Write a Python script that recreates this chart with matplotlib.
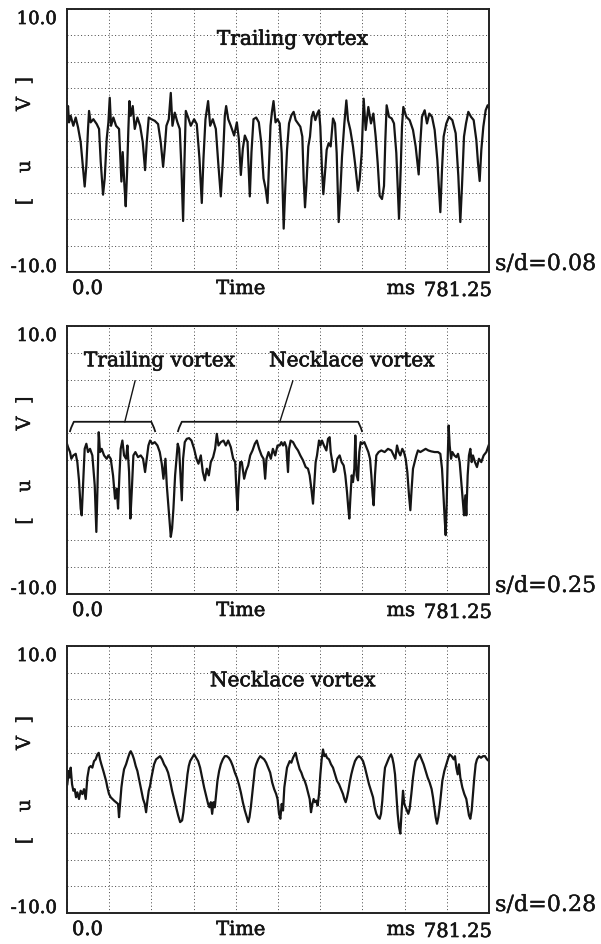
import numpy as np
import matplotlib
matplotlib.use("Agg")
import matplotlib.pyplot as plt
import matplotlib.patheffects as pe

plt.rcParams['font.family'] = ['DejaVu Serif']

T_END = 781.25

# s/d = 0.08 : time [ms], signal [V]
t_008 = [0.0, 1.9, 3.7, 6.8, 11.7, 16.1, 20.4, 25.3, 29.6, 32.7, 35.8, 38.9, 40.8, 43.8, 48.8, 55.0, 59.3, 62.4,
         66.7, 69.8, 73.5, 76.6, 79.1, 81.5, 85.8, 90.8, 96.3, 100.7, 103.1, 106.2, 108.7, 111.2, 113.6, 115.5,
         117.9, 121.7, 125.4, 130.3, 135.3, 140.2, 144.5, 147.6, 151.3, 156.3, 162.4, 168.6, 173.5, 177.9, 180.9,
         184.0, 188.4, 192.1, 195.2, 199.5, 204.4, 208.7, 211.8, 214.9, 217.4, 219.9, 224.2, 229.1, 235.3, 240.2,
         245.2, 249.5, 252.6, 256.3, 261.2, 265.0, 269.9, 275.5, 279.8, 284.7, 288.4, 292.1, 294.6, 298.5, 303.2,
         309.4, 314.4, 318.1, 321.8, 325.5, 329.2, 334.2, 338.4, 341.5, 345.2, 350.2, 355.1, 359.4, 363.8, 367.5,
         371.2, 373.6, 376.7, 379.2, 382.3, 386.0, 389.7,
         393.7, 397.4, 401.1, 404.2, 407.3, 411.0, 415.3, 419.6, 423.3, 427.6, 431.9, 435.6, 438.1, 440.6, 443.1,
         446.7, 449.8, 452.9, 456.0, 459.7, 463.4, 466.5, 468.9, 472.0, 474.5, 477.6, 480.7, 484.4, 488.1, 492.4,
         496.1, 499.2, 502.9, 506.0, 509.1, 513.4, 517.1, 520.2, 524.5, 529.4, 533.1, 538.7, 541.8, 545.5, 549.2,
         552.9, 557.8, 562.7, 567.1, 571.4, 575.1, 578.8, 583.1, 586.8, 589.3, 591.7, 596.1, 601.0, 605.3, 609.6,
         614.6, 617.7, 620.1, 622.6, 628.1, 634.3, 640.5, 645.4, 651.0, 654.0, 657.1, 662.1, 666.4, 670.7, 675.7,
         680.6, 685.5, 691.1, 694.2, 697.2, 702.2, 707.1, 713.3, 719.5, 724.4, 728.1, 731.2, 734.9, 738.6, 742.9,
         747.9, 752.8, 757.7, 760.8, 763.9, 767.0, 770.7, 775.0, 778.7, 781.1]
u_008 = [1.62, 2.62, 1.38, 1.88, 1.12, 1.75, 1.0, -0.12, -2.12, -3.5, -1.88, 0.88, 2.25, 1.38, 1.62, 1.25, 0.88, -1.62,
         -4.12, -2.88, 0.12, 1.38, 3.25, 1.12, 1.75, 1.12, 0.88, -3.12, -0.88, -3.38, -5.0, -2.38, 0.88, 3.0,
         1.88, 2.62, 0.88, 1.75, 1.12, -0.12, -2.25, -0.12, 1.75, 1.62, 1.5, 1.25, -0.12, -2.0, -0.62,
         1.12, 1.62, 3.62, 1.12, 2.12, 1.38, 0.88, -2.12, -6.12, -1.62, 2.25, 1.75, 1.12, 1.62, 1.25,
         -1.38, -4.75, -1.38, 1.62, 3.0, 1.12, 1.62, 0.88, -1.62, -4.25, -1.62, 1.88, 2.62, 1.62, 1.12,
         0.38, 1.38, 0.12, -2.62, -0.62, 0.38, -0.12, -4.25, -0.88, 1.62, 1.75, 1.38, -0.12, -2.88, -3.62,
         -4.75, -2.12, 1.12, 2.12, 3.0, 1.38, 1.62,
         1.30, -0.95, -6.70, -3.45, -0.70, 1.30, 1.92, 2.18, 1.55, 1.30, 1.05, 0.30, -2.95, -5.08, -3.45,
         -0.45, 0.30, 1.80, 2.18, 1.55, 2.05, 2.30, 1.05, -2.20, -4.08, -2.45, -0.70, -0.20, -0.45, 1.68,
         1.30, -0.95, -6.20, -3.95, -1.20, 1.30, 3.05, 1.55, 0.80, -0.45, -1.70, -3.83, -2.95, -0.95, 3.18,
         0.80, 2.55, 1.30, 2.05, 0.30, -1.70, -4.20, -4.45, -3.45, 0.05, 2.68, 1.80, 1.68, 1.30, -0.95,
         -5.95, -2.20, 1.05, 2.55, 1.80, 1.55, 0.80, -0.45, -2.58, -0.20, 1.80, 2.30, 1.30, 2.05, 1.80,
         0.80, -1.45, -5.45, -2.20, 0.30, 1.30, 1.80, 1.55, 0.55, -2.70, -6.20, -3.45, 0.30, 1.30, 2.18,
         1.80, 1.55, 0.05, -1.70, -3.08, -0.70, 1.05, 2.30, 2.68, 2.55]

# s/d = 0.25
t_025 = [0.0, 1.9, 5.6, 8.0, 11.7, 16.1, 19.1, 22.2, 25.3, 27.2, 29.6, 32.7, 35.8, 38.9, 42.6, 46.9, 51.3, 54.3,
         56.2, 58.7, 61.1, 64.2, 68.6, 73.5, 76.6, 80.9, 85.2, 88.9, 92.0, 94.5, 97.0, 99.4, 102.5, 105.6, 109.3,
         111.8, 114.9, 117.3, 119.8, 122.9, 126.6, 131.5, 136.5, 140.8, 144.5, 147.6, 150.7, 153.8, 158.1, 162.4,
         167.4, 171.7, 175.4, 178.5, 182.2, 184.7, 187.1, 189.6, 192.1, 194.5, 197.0, 200.1, 202.6, 205.0, 207.5,
         210.0, 212.5, 214.9, 218.0, 221.7, 226.0, 230.4, 235.3, 239.6, 243.3, 247.7, 251.4, 255.1, 258.8, 262.5,
         266.2, 270.5, 274.2, 277.3, 280.4, 284.7, 289.7, 294.0, 298.3, 303.2, 307.6, 311.3, 313.7, 315.6, 317.4,
         320.5, 323.6, 327.9, 331.7, 335.4, 339.1, 343.4, 347.7, 351.4, 355.7, 360.1, 363.8, 366.8, 369.3, 373.0,
         377.3, 381.1, 385.4, 389.7,
         393.7, 396.8, 399.9, 402.9, 406.0, 409.1, 411.0, 414.0, 418.4, 423.3, 427.6, 431.9, 436.9, 441.8, 446.1,
         449.2, 452.3, 455.4, 457.9, 460.3, 462.8, 466.5, 469.0, 472.0, 475.7, 480.1, 483.2, 486.2, 488.1, 491.2,
         493.6, 496.7, 500.4, 504.7, 508.4, 512.2, 515.2, 518.3, 520.8, 522.6, 524.5, 527.0, 529.4, 531.9, 533.7,
         536.2, 538.7, 541.1, 543.6, 546.7, 550.4, 554.1, 557.8, 560.9, 563.4, 565.8, 567.7, 570.1, 572.6, 576.9,
         581.9, 588.0, 594.2, 600.4, 604.7, 607.8, 610.9, 614.0, 617.0, 620.7, 623.8, 626.9, 630.0, 633.1, 635.6,
         638.0, 640.5, 643.6, 646.7, 649.7, 654.1, 659.0, 663.9, 668.9, 674.4, 680.6, 686.8, 691.1, 694.2, 696.6,
         699.1, 701.0, 702.8, 704.7, 706.5, 708.4, 710.9, 713.3, 717.0, 720.7, 723.8, 726.9, 730.0, 732.4, 734.9,
         737.4, 739.2, 741.7, 744.1, 746.6, 749.1, 751.5, 755.2, 758.9, 762.6, 766.9, 771.3, 776.2, 780.5]
u_025 = [1.2, 0.96, 0.59, 0.09, 0.34, 0.46, -0.16, -1.52, -3.63, -4.13, -1.89, 0.83, 1.21, 0.59, 0.83, 0.34, -1.89, -5.37,
         -2.39, 2.07, 0.59, 0.83, 0.34, 0.09, 0.34, 0.09, -1.15, -2.89, -2.14, -3.63, -1.15, 0.83, 1.45, 0.34, 0.09,
         1.08, -0.90, -4.37, -2.39, 0.34, 0.59, 0.21, 0.34, 0.09, -0.90, 0.09, 1.08, 1.45, 1.21, 1.33,
         1.08, 0.59, -0.28, -1.40, 0.09, -1.89, -3.13, -4.37, -5.74, -5.12, -3.63, -1.15, 0.09, 1.21, 0.83,
         -1.15, -3.01, 0.09, 1.33, 1.58, 1.63, 1.45, 0.83, 0.09, -0.28, 0.34, -0.90, -1.52, -0.65, -1.15,
         -0.16, 0.21, 0.83, 1.95, 1.08, 1.33, 1.45, 1.08, 1.45, 0.96, 0.09, -0.16, -2.39, -3.75, -2.14,
         -0.16, -0.16, -1.40, -0.78, -0.41, 0.34, 0.71, 1.21, 1.45, 0.83, 0.34, 0.09, -1.40, 0.09, 0.59,
         0.09, 0.83, 0.34, 1.08,
         1.08, 1.33, 1.08, 1.33, 0.96, -0.90, 0.83, 1.45, 1.33, 0.96, 0.71, 0.34, -0.03, -0.53, -0.65,
         -1.15, -2.14, -3.26, -1.65, -0.16, 0.34, 1.45, 1.08, 1.45, 1.08, 0.71, 1.58, 1.70, 0.59, -0.16,
         -0.90, -0.78, 0.09, 0.34, -0.16, -0.41, -1.15, -2.39, -3.63, -4.37, -2.89, -1.15, -1.65, -0.65, 1.83,
         -1.15, -1.52, 0.59, 1.33, 1.21, 1.33, 0.96, 0.59, 0.09, -1.15, -2.64, -3.38, -1.15, 0.34, 0.59,
         0.71, 0.59, 0.83, 0.71, 0.34, 0.09, 1.08, 0.59, 0.34, 0.83, 0.59, 0.09, -0.90, -2.64, -3.75,
         -2.14, -0.65, -0.16, 0.34, 0.71, 0.59, 0.71, 0.83, 0.71, 0.64, 0.59, 0.59, 0.46, -0.65, -2.39,
         -4.37, -5.61, -3.38, 0.09, 2.57, 1.08, 0.09, 0.59, 0.34, 0.21, 0.46, -0.16, -1.65, -2.89, -4.13,
         -2.64, -4.13, -1.15, 0.34, 0.83, -0.16, 0.34, -0.16, -0.53, 0.09, -0.16, 0.34, 0.59, 1.08]

# s/d = 0.28
t_028 = [0.6, 3.1, 4.9, 6.8, 9.3, 11.7, 14.2, 16.7, 19.1, 22.2, 25.3, 28.4, 31.5, 34.6, 37.7, 40.8, 43.8, 46.9,
         50.0, 53.1, 56.2, 58.7, 61.1, 63.6, 67.3, 69.8, 72.3, 74.7, 77.8, 80.9, 84.0, 87.1, 90.8, 94.5, 96.3,
         98.2, 100.7, 103.1, 105.6, 109.3, 113.0, 116.1, 118.0, 121.0, 124.1, 127.2, 130.3, 134.0, 137.7, 140.8,
         143.9, 146.4, 148.8, 151.3, 153.8, 156.3, 158.7, 161.2, 164.9, 168.6, 172.3, 176.0, 179.7, 183.4, 187.1,
         190.8, 194.5, 198.2, 202.0, 205.7, 209.4, 213.1, 215.5, 218.0, 220.5, 223.0, 225.4, 227.9, 231.6, 235.3,
         239.0, 242.7, 246.4, 250.1, 253.8, 257.5, 261.2, 263.7, 266.2, 268.7, 271.1, 273.6, 276.1, 278.5, 281.6,
         284.7, 288.4, 292.1, 295.8, 299.5, 303.2, 306.9, 310.7, 314.4, 318.1, 321.8, 325.5, 329.2, 332.9, 335.4,
         337.8, 340.3, 342.8, 345.2, 347.7, 350.2, 353.9, 357.6, 361.3, 365.0, 368.7, 372.4, 376.1, 379.8, 383.5,
         387.2, 389.7,
         392.5, 394.9, 397.4, 399.9, 402.3, 404.8, 407.3, 409.7, 412.2, 415.3, 418.4, 421.5, 423.3, 425.8, 428.2,
         430.7, 433.8, 436.9, 440.0, 443.0, 446.1, 449.2, 451.7, 454.2, 456.6, 459.1, 461.6, 464.0, 466.5, 469.0,
         471.4, 473.9, 476.4, 478.8, 481.3, 485.0, 488.7, 492.4, 496.1, 499.8, 503.5, 507.2, 510.9, 513.4, 515.9,
         518.3, 520.8, 523.3, 526.3, 529.4, 533.1, 536.8, 540.5, 544.2, 548.0, 551.6, 555.3, 559.0, 562.7, 566.5,
         569.5, 572.6, 575.7, 578.8, 581.3, 583.7, 586.2, 588.7, 591.1, 593.6, 596.1, 599.8, 602.2, 604.7, 607.2,
         609.6, 612.1, 614.6, 617.0, 619.5, 622.0, 624.4, 626.9, 629.4, 631.8, 634.3, 637.4, 640.5, 643.0, 645.4,
         649.1, 652.8, 656.5, 660.2, 663.9, 667.6, 671.3, 675.0, 677.5, 679.9, 682.4, 684.9, 687.4, 689.8, 692.3,
         694.8, 698.5, 702.2, 705.9, 708.4, 712.1, 715.8, 718.2, 720.7, 723.2, 725.6, 728.1, 731.8, 735.5, 739.2,
         741.7, 744.1, 746.6, 749.1, 751.5, 754.0, 756.5, 758.9, 762.6, 766.4, 770.1, 773.8, 777.5, 781.2]
u_028 = [-0.35, 0.64, 0.15, 0.89, -0.35, -0.84, -0.72, -1.33, -0.96, -1.46, -0.84, -1.09, -0.72, -1.46, 0.15, 0.89, 1.01, 0.89,
         1.38, 1.51, 1.88, 2.00, 1.51, 1.14, 0.64, 0.27, -0.10, -0.59, -1.09, -1.33, -1.46, -1.58, -1.70, -1.83, -2.82,
         -1.83, -0.59, 0.15, 0.77, 1.14, 1.63, 2.00, 2.12, 1.88, 1.51, 1.01, 0.64, -0.10, -0.84, -1.46,
         -1.83, -2.45, -1.58, -0.84, -0.47, 0.15, 0.64, 1.14, 1.51, 1.63, 1.75, 1.51, 1.14, 0.89, 0.52,
         -0.10, -0.84, -1.46, -2.08, -2.69, -3.19, -3.06, -2.45, -1.46, -0.59, 0.39, 1.01, 1.38, 1.63, 1.88,
         1.63, 1.38, 0.89, 0.15, -0.59, -1.21, -1.83, -2.08, -1.70, -2.57, -1.70, -2.08, -1.09, -0.10, 0.64,
         1.14, 1.51, 1.75, 1.75, 1.63, 1.38, 1.01, 0.52, 0.15, -0.35, -0.96, -1.70, -2.32, -2.82, -3.19,
         -2.82, -2.08, -1.09, -0.10, 0.77, 1.14, 1.51, 1.75, 1.63, 1.51, 1.26, 0.89, 0.52, -0.22, -0.72,
         -1.09, -1.46,
         -2.57, -2.94, -1.83, -2.32, -0.59, 0.15, 0.89, 1.14, 1.38, 1.26, 1.63, 1.88, 2.00, 1.51, 1.14,
         0.77, 0.52, 0.15, -0.10, -0.47, -0.96, -1.46, -2.45, -1.83, -1.46, -1.70, -1.58, -1.95, -1.09, 0.39,
         1.51, 2.25, 1.75, 1.88, 1.63, 1.51, 1.14, 0.89, 0.39, -0.10, -0.35, -0.72, -1.09, -1.46, -1.70,
         -1.33, -0.84, -0.22, 0.39, 0.89, 1.38, 1.63, 1.75, 1.63, 1.38, 0.89, 0.27, -0.35, -0.84, -1.33,
         -2.08, -2.57, -2.82, -2.94, -2.57, -1.58, -0.10, 0.89, 1.14, 1.38, 1.63, 1.88, 1.63, 1.14, 0.39,
         -1.09, -2.57, -3.56, -4.05, -2.32, -0.84, -1.83, -2.08, -2.32, -2.57, -2.20, -1.09, 0.15, 0.89, 1.38,
         1.63, 1.88, 1.51, 1.14, 0.64, 0.15, -0.22, -0.72, -1.33, -2.08, -2.82, -3.31, -2.82, -2.08, -1.09,
         -0.10, 0.64, 1.14, 1.63, 1.88, 1.75, 1.51, 1.75, 0.89, 0.39, 1.14, 0.15, -0.59, -1.09, -1.46,
         -2.08, -2.69, -2.94, -2.32, -1.09, 0.15, 1.14, 1.51, 1.75, 1.63, 1.75, 1.75, 1.51, 1.38]

panels = [
    (t_008, u_008, "s/d=0.08"),
    (t_025, u_025, "s/d=0.25"),
    (t_028, u_028, "s/d=0.28"),
]

fig = plt.figure(figsize=(6.01, 9.45), dpi=100)
boxes = [[0.1115, 0.7111, 0.7022, 0.2783],
         [0.1115, 0.3704, 0.7022, 0.2836],
         [0.1115, 0.0328, 0.7022, 0.2825]]

INK = '#151515'
# regular serif, thickened a little to look like the scanned print
heavy = [pe.withStroke(linewidth=0.45, foreground=INK)]
light = [pe.withStroke(linewidth=0.25, foreground=INK)]

axes = []
for (t, u, tag), box in zip(panels, boxes):
    ax = fig.add_axes(box)
    ax.plot(t, u, color=INK, lw=1.6)
    ax.set_xlim(0, T_END)
    ax.set_ylim(-10, 10)
    ax.set_xticks(np.linspace(0, T_END, 11))
    ax.set_yticks(np.arange(-10, 11, 2))
    ax.tick_params(length=0, labelbottom=False, labelleft=False)
    ax.grid(True, ls=(0, (1, 2.5)), color='#444444', lw=0.7)
    for s in ax.spines.values():
        s.set_linewidth(1.4)
        s.set_color('#222222')

    kw = dict(xycoords='axes fraction', textcoords='offset pixels', color=INK, path_effects=heavy)
    ax.annotate('10.0', xy=(0, 1), xytext=(-10, -10), ha='right', va='center', fontsize=13, **kw)
    ax.annotate('-10.0', xy=(0, 0), xytext=(-10, 5), ha='right', va='center', fontsize=13, **kw)
    ax.annotate('0.0', xy=(0, 0), xytext=(5, -17), ha='left', va='center', fontsize=14, **kw)
    ax.annotate('Time', xy=(0.412, 0), xytext=(0, -17), ha='center', va='center', fontsize=14, **kw)
    ax.annotate('ms', xy=(0.791, 0), xytext=(0, -17), ha='center', va='center', fontsize=14, **kw)
    ax.annotate('781.25', xy=(1, 0), xytext=(3, -19), ha='right', va='center', fontsize=14, **kw)
    ax.annotate(tag, xy=(1, 0), xytext=(6, 8), ha='left', va='center', color=INK, path_effects=light,
                xycoords='axes fraction', textcoords='offset pixels', fontsize=16)
    ax.annotate('[    u        V  ]', xy=(0, 0.5), xytext=(-42, 0), rotation=90, ha='center', va='center',
                xycoords='axes fraction', textcoords='offset pixels', fontsize=14, color=INK,
                path_effects=light)
    axes.append(ax)

title_kw = dict(ha='center', va='center', fontsize=14.5, color=INK, path_effects=heavy)
axes[0].text(0.535, 0.885, 'Trailing vortex', transform=axes[0].transAxes, **title_kw)
axes[2].text(0.535, 0.87, 'Necklace vortex', transform=axes[2].transAxes, **title_kw)

# brackets and labels on the middle panel
ax = axes[1]
ax.text(0.22, 0.87, 'Trailing vortex', transform=ax.transAxes, **title_kw)
ax.text(0.675, 0.87, 'Necklace vortex', transform=ax.transAxes, **title_kw)


def bracket(ax, x0, x1, y=2.85, drop=0.7):
    xs = [x0, x0 + 2, x0 + 7, x1 - 7, x1 - 2, x1]
    ys = [y - drop, y - 0.45, y, y, y - 0.45, y - drop]
    ax.plot(xs, ys, color=INK, lw=1.3)


bracket(ax, 5.6, 163)
bracket(ax, 205.5, 546)
ax.plot([107, 126], [2.85, 5.9], color=INK, lw=1.0)
ax.plot([394, 418], [2.85, 5.9], color=INK, lw=1.0)

fig.savefig('out.png', dpi=100, facecolor='white')
